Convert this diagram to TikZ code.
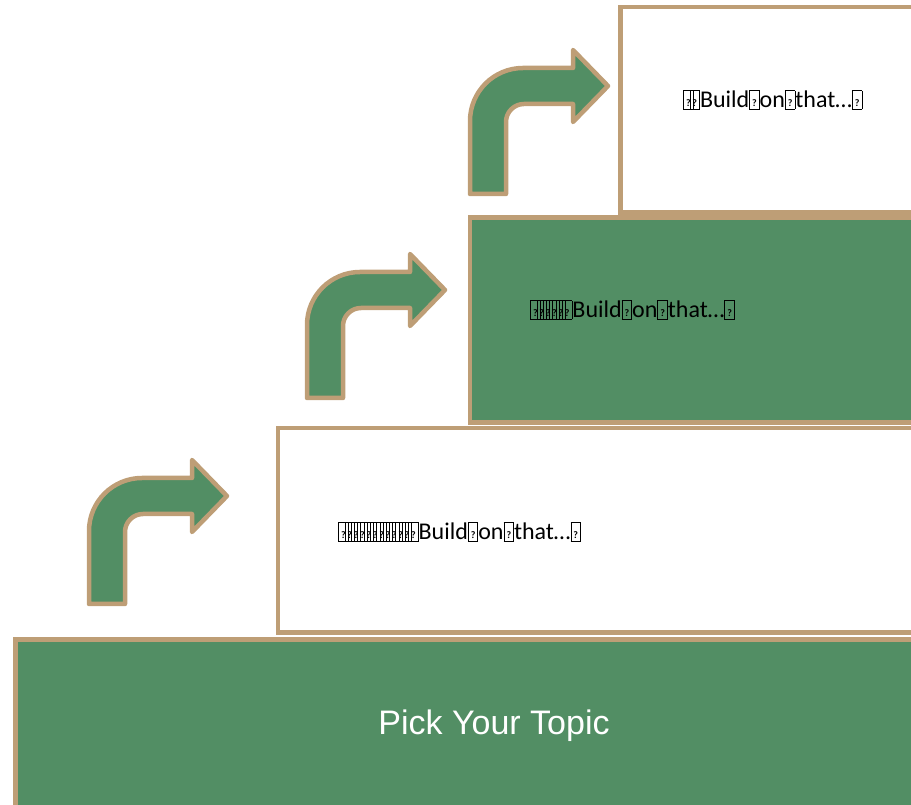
\documentclass[tikz,border=0pt]{standalone}
\usepackage{fontspec}
\setmainfont{Carlito}
\newfontfamily\arialfont{Liberation Sans}
\definecolor{stepgreen}{RGB}{82,142,100}
\definecolor{steptan}{RGB}{190,158,118}
% placeholder glyph box, as the renderer draws an unknown character
\newcommand\gbox{{\setlength\fboxsep{0pt}\setlength\fboxrule{0.9pt}\raisebox{-0.04em}{\fbox{\makebox[0.36em]{\rule{0pt}{0.72em}\raisebox{0.1em}{\fontsize{10}{10}\selectfont\bfseries ?}}}}}}
\newcommand\gk{\gbox\kern-0.17em}
\tikzset{
  stepwhite/.style={draw=steptan, line width=4.5pt, fill=white},
  stepfill/.style={draw=steptan, line width=4.5pt, fill=stepgreen},
  turnarrow/.style={draw=steptan, line width=4.5pt, fill=stepgreen, line join=round},
  steptext/.style={font=\fontsize{24}{28}\selectfont, text=black, inner sep=0pt},
}
\newcommand\bentarrow[2]{%
  \draw[turnarrow, shift={(#1,#2)}] (0,0) -- (0,73)
    arc[start angle=180, end angle=90, radius=53] -- (103,126) -- (103,144)
    -- (138,108) -- (103,72) -- (103,90) -- (54,90)
    arc[start angle=90, end angle=180, radius=18] -- (36,0) -- cycle;}
\begin{document}
\begin{tikzpicture}[x=1pt, y=1pt]
  \useasboundingbox (0,0) rectangle (911,805);
  \clip (0,0) rectangle (911,805);
  % the four steps
  \draw[stepfill]  (15.5,-10) rectangle (930,165.5);
  \draw[stepwhite] (278,172.5) rectangle (930,377);
  \draw[stepfill]  (470,382.5) rectangle (930,587.5);
  \draw[stepwhite] (620.5,592.5) rectangle (930,798);
  % labels
  \node[font=\arialfont\fontsize{34}{38}\selectfont, text=white, inner sep=0pt] (topic) at (494,79) {Pick Your Topic};
  \node[steptext, anchor=west] (s1) at (338,273) {\gk\gk\gk\gk\gk\gk\gk\gk\gk\gk\gk\gbox Build\gbox on\gbox that\ldots\gbox};
  \node[steptext, anchor=west] (s2) at (530,495) {\gk\gk\gk\gk\gk\gbox Build\gbox on\gbox that\ldots\gbox};
  \node[steptext, anchor=west] (s3) at (683,705) {\gk\gbox Build\gbox on\gbox that\ldots\gbox};
  % turning arrows between steps
  \bentarrow{89}{201}
  \bentarrow{307}{407}
  \bentarrow{470}{611}
\end{tikzpicture}
\end{document}
